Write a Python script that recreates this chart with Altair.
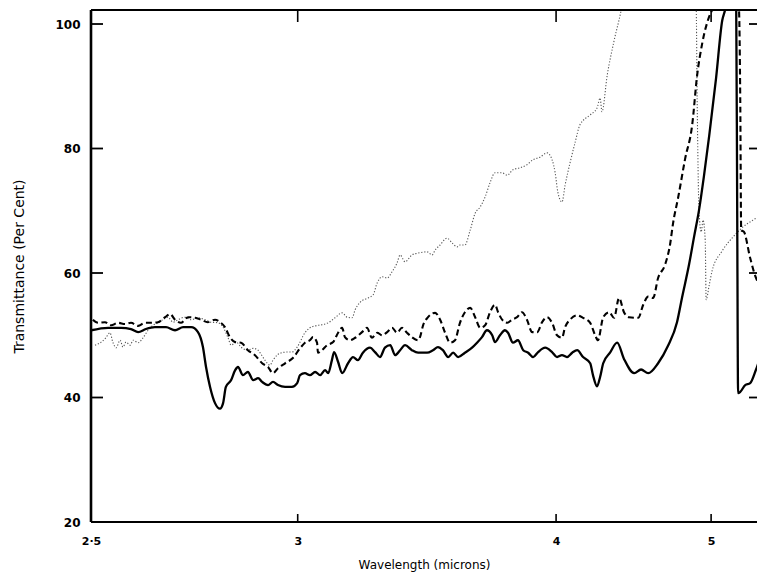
import altair as alt
import pandas as pd

# Curves. x is wavenumber (cm^-1), the axis is labelled in microns.
solid_nu = [4000, 3945, 3903, 3871, 3848, 3823, 3794, 3758, 3729, 3703,
            3677, 3655, 3639, 3629, 3616, 3600, 3584, 3574, 3565, 3548,
            3535, 3526, 3510, 3494, 3477, 3461, 3448, 3429, 3413, 3397,
            3374, 3352, 3335, 3326, 3310, 3294, 3277, 3261, 3245, 3235,
            3223, 3216, 3203, 3190, 3171, 3155, 3139, 3123, 3100, 3084,
            3068, 3052, 3035, 3019, 3003, 2987, 2965, 2945, 2916, 2897,
            2881, 2865, 2848, 2832, 2816, 2794, 2771, 2755, 2739, 2723,
            2706, 2697, 2681, 2665, 2655, 2639, 2623, 2606, 2590, 2574,
            2558, 2535, 2513, 2497, 2481, 2465, 2448, 2432, 2413, 2390,
            2381, 2368, 2358, 2348, 2326, 2303, 2281, 2248, 2226, 2203,
            2171, 2139, 2110, 2094, 2071, 2055, 2039, 2023, 2006, 1984,
            1964, 1955, 1945, 1929, 1919, 1916, 1913, 1906, 1890, 1874,
            1855, 1839, 1826, 1816]
solid_t = [50.8, 51.2, 51.2, 51.0, 50.5, 51.0, 51.3, 51.3, 50.8, 51.3,
           51.3, 50.5, 48.1, 44.9, 41.7, 39.1, 38.2, 39.1, 41.7, 42.8,
           44.4, 44.9, 43.6, 44.1, 42.8, 43.1, 42.5, 42.0, 42.5, 42.0,
           41.7, 41.7, 42.3, 43.6, 43.9, 43.6, 44.1, 43.6, 44.4, 43.9,
           46.0, 47.3, 45.7, 43.9, 45.5, 46.5, 46.0, 47.2, 48.0, 47.3,
           46.5, 48.0, 48.4, 46.8, 47.6, 48.4, 47.6, 47.2, 47.2, 47.6,
           48.1, 47.6, 46.5, 47.2, 46.5, 47.2, 48.0, 48.8, 49.7, 50.8,
           50.0, 48.9, 50.0, 50.8, 50.4, 48.8, 49.2, 47.6, 47.2, 46.5,
           47.3, 48.0, 47.3, 46.5, 46.8, 46.5, 47.2, 47.6, 46.5, 45.5,
           43.6, 41.8, 43.3, 45.5, 47.2, 48.8, 46.2, 43.9, 44.5, 43.9,
           45.5, 48.3, 52.1, 56.0, 61.4, 65.8, 70.1, 75.6, 82.1, 91.3,
           100.6, 102.25, 104.7, 104.7, 102.25, 71.7, 40.7, 40.9, 42.0, 42.3,
           44.5, 46.7, 47.6, 48.0]

dashed_nu = [3994, 3977, 3955, 3935, 3913, 3890, 3871, 3848, 3826, 3806,
             3784, 3761, 3745, 3729, 3710, 3687, 3664, 3645, 3623, 3600,
             3584, 3568, 3552, 3535, 3516, 3494, 3471, 3448, 3429, 3413,
             3397, 3374, 3348, 3326, 3310, 3294, 3284, 3271, 3268, 3255,
             3239, 3219, 3203, 3190, 3181, 3165, 3148, 3126, 3110, 3094,
             3077, 3061, 3045, 3029, 3013, 2997, 2981, 2965, 2945, 2939,
             2929, 2913, 2890, 2874, 2858, 2842, 2826, 2810, 2794, 2777,
             2761, 2745, 2729, 2713, 2697, 2687, 2674, 2658, 2642, 2626,
             2610, 2594, 2577, 2561, 2545, 2529, 2513, 2497, 2481, 2471,
             2455, 2432, 2413, 2390, 2374, 2365, 2348, 2329, 2313, 2297,
             2281, 2265, 2235, 2219, 2203, 2187, 2171, 2148, 2132, 2123,
             2106, 2084, 2061, 2045, 2029, 2003, 1997, 1987, 1916, 1910,
             1906, 1903, 1894, 1874, 1855, 1839, 1826, 1816]
dashed_t = [52.5, 52.0, 52.1, 51.6, 52.0, 51.8, 52.0, 51.5, 52.0, 52.0,
            52.1, 52.9, 53.4, 52.5, 52.0, 52.9, 52.8, 52.5, 52.1, 52.5,
            52.1, 51.3, 49.7, 48.9, 48.8, 47.6, 46.8, 45.5, 44.9, 43.9,
            44.7, 45.5, 46.4, 47.9, 48.8, 49.2, 49.7, 48.8, 47.2, 47.6,
            48.4, 48.9, 50.4, 51.2, 49.7, 49.2, 49.6, 50.5, 51.2, 49.6,
            50.4, 50.0, 50.5, 51.2, 50.4, 51.2, 50.4, 49.7, 49.2, 49.7,
            51.6, 52.9, 53.6, 52.5, 50.4, 48.8, 49.2, 52.0, 53.7, 54.4,
            52.9, 51.2, 51.6, 53.7, 54.9, 53.7, 52.5, 52.0, 52.5, 52.9,
            53.7, 52.5, 50.5, 50.5, 52.1, 52.9, 52.0, 50.0, 49.6, 51.3,
            52.5, 53.2, 52.8, 52.0, 50.0, 49.2, 52.9, 53.7, 52.8, 56.0,
            53.7, 52.9, 52.8, 54.9, 56.2, 56.0, 59.2, 61.4, 64.7, 67.9,
            72.2, 78.3, 83.8, 91.8, 96.8, 101.6, 102.25, 104.7, 104.7, 102.25,
            87.8, 66.9, 66.6, 62.4, 59.2, 58.1, 59.2, 59.7]

dotted_nu = [3987, 3967, 3952, 3939, 3929, 3919, 3906, 3897, 3887, 3874,
             3864, 3848, 3832, 3816, 3800, 3784, 3768, 3752, 3735, 3719,
             3697, 3677, 3655, 3632, 3613, 3590, 3574, 3558, 3548, 3532,
             3516, 3494, 3477, 3461, 3455, 3439, 3423, 3413, 3400, 3384,
             3368, 3352, 3335, 3310, 3294, 3277, 3255, 3235, 3213, 3190,
             3174, 3158, 3148, 3132, 3106, 3090, 3077, 3061, 3045, 3029,
             3013, 3003, 2987, 2965, 2945, 2916, 2900, 2890, 2874, 2852,
             2835, 2819, 2810, 2794, 2777, 2761, 2745, 2729, 2713, 2697,
             2674, 2658, 2639, 2616, 2594, 2574, 2552, 2529, 2513, 2503,
             2494, 2481, 2471, 2455, 2439, 2423, 2390, 2368, 2358, 2352,
             2335, 2313, 2290, 2281, 2055, 2048, 2045, 2039, 2032, 2026,
             2019, 2016, 2006, 1997, 1965, 1929, 1897, 1865, 1832, 1816]
dotted_t = [48.4, 48.9, 49.6, 50.4, 48.8, 48.0, 49.2, 48.1, 48.9, 48.4,
            49.2, 48.8, 49.6, 50.8, 51.6, 52.0, 52.5, 52.9, 52.1, 52.5,
            52.9, 52.5, 52.8, 52.5, 52.1, 52.0, 51.3, 49.6, 48.4, 48.9,
            48.1, 47.6, 47.9, 47.6, 47.2, 46.0, 45.2, 46.0, 46.8, 47.2,
            47.3, 47.3, 48.1, 50.4, 51.2, 51.5, 51.7, 52.0, 52.8, 53.6,
            52.9, 52.8, 54.1, 55.3, 56.0, 56.5, 58.4, 59.4, 59.2, 60.2,
            61.6, 62.9, 61.8, 62.9, 63.2, 63.4, 62.9, 63.7, 64.5, 65.6,
            64.8, 64.2, 64.5, 64.5, 66.9, 69.6, 70.6, 72.2, 74.5, 76.1,
            76.1, 75.7, 76.6, 76.9, 77.4, 78.2, 78.6, 79.3, 78.2, 76.1,
            72.9, 71.4, 74.1, 77.7, 80.9, 83.8, 85.4, 86.5, 88.1, 85.9,
            91.8, 97.3, 102.25, 104.7, 104.7, 102.25, 87.8, 70.1, 66.6, 68.5,
            65.3, 55.7, 58.1, 60.3, 63.5, 65.8, 67.4, 68.5, 69.5, 70.1]

# Axis ticks: wavenumbers of 2.5, 3, 4 and 5 microns
x_tick_nu = [4000, 3333.333, 2500, 2000]
x_tick_labels = ["2·5", "3", "4", "5"]
y_ticks = [20, 40, 60, 80, 100]
x_domain = [4000, 1852]
y_domain = [20, 102.25]

W, H = 666, 512
FONT = "DejaVu Sans"
xs = alt.Scale(domain=x_domain, nice=False, zero=False)
ys = alt.Scale(domain=y_domain, nice=False, zero=False)

label_expr = " : ".join(
    f"abs(datum.value - {v}) < 1 ? '{l}'" for v, l in zip(x_tick_nu, x_tick_labels)
) + " : ''"

ax_x = alt.Axis(orient="bottom", values=x_tick_nu, labelExpr=label_expr,
                title="Wavelength (microns)", domain=False, grid=False,
                ticks=False, tickSize=0, offset=0,
                labelPadding=13, labelFlush=False, labelFont=FONT, labelFontSize=11,
                labelFontWeight="bold", labelColor="black", titleFont=FONT,
                titleFontSize=12, titleFontWeight="normal", titleColor="black",
                titlePadding=13)
ax_y = alt.Axis(orient="left", values=y_ticks, format="d",
                title="Transmittance (Per Cent)", domain=False, grid=False,
                ticks=False, tickSize=0, offset=0,
                labelPadding=11, labelFont=FONT, labelFontSize=12,
                labelFontWeight="bold", labelColor="black", titleFont=FONT,
                titleFontSize=14, titleFontWeight="normal", titleColor="black",
                titlePadding=28)

X = lambda: alt.X("wavenumber:Q", scale=xs, axis=ax_x)
Y = lambda: alt.Y("transmittance:Q", scale=ys, axis=ax_y)


def curve(nu, t, **mark):
    df = pd.DataFrame({"wavenumber": nu, "transmittance": t})
    return alt.Chart(df).mark_line(clip=True, interpolate="monotone", **mark).encode(
        x=X(), y=Y()
    )


# Frame (left, bottom, top borders) plus inward-pointing ticks, as rule segments.
# Tick lengths are given in pixels and converted to data units through the scale span.
per_px_x = (x_domain[0] - x_domain[1]) / W
per_px_y = (y_domain[1] - y_domain[0]) / H
segments = [
    (x_domain[0], x_domain[0], y_domain[0], y_domain[1], 2.6),
    (x_domain[0], x_domain[1], y_domain[0], y_domain[0], 2.2),
    (x_domain[0], x_domain[1], y_domain[1], y_domain[1], 2.2),
]
for v in y_ticks:
    segments.append((x_domain[0], x_domain[0] - 12 * per_px_x, v, v, 1.8))
    segments.append((x_domain[1] + 8 * per_px_x, x_domain[1], v, v, 1.8))
for v in x_tick_nu:
    segments.append((v, v, y_domain[0], y_domain[0] + 8 * per_px_y, 1.6))
    segments.append((v, v, y_domain[1], y_domain[1] - 12 * per_px_y, 1.6))

frame_df = pd.DataFrame(segments, columns=["wavenumber", "wavenumber_end",
                                           "transmittance", "transmittance_end", "w"])
frame = alt.Chart(frame_df).mark_rule(color="black").encode(
    x=X(), x2="wavenumber_end:Q", y=Y(), y2="transmittance_end:Q",
    strokeWidth=alt.StrokeWidth("w:Q", scale=None, legend=None),
)

dotted = curve(dotted_nu, dotted_t, color="#555555", strokeWidth=1.1, strokeDash=[1.2, 1.8])
dashed = curve(dashed_nu, dashed_t, color="black", strokeWidth=2.1, strokeDash=[6, 3.5])
solid = curve(solid_nu, solid_t, color="black", strokeWidth=2.3)

chart = alt.layer(frame, dotted, dashed, solid).properties(
    width=W, height=H,
    autosize=alt.AutoSizeParams(type="none"),
    padding={"left": 83, "top": 2, "right": 0, "bottom": 52},
    background="white",
).configure_view(stroke=None)

chart.save("out.html", embed_options={"renderer": "svg", "actions": False})
